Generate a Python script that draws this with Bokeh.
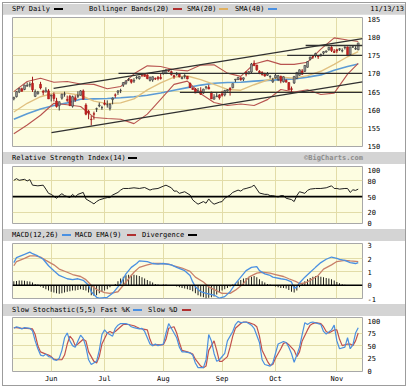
import pandas as pd
from bokeh.plotting import figure
from bokeh.models import Range1d, FixedTicker, Span, Div, ColumnDataSource
from bokeh.layouts import column
from bokeh.embed import file_html
from bokeh.resources import INLINE

# ---------------- data (trading-day index 0 = May 13 2013 ... 129 = Nov 13 2013)
day_idx = list(range(130))
opens = [163.0,163.6,164.9,165.8,165.6,166.5,166.8,167.3,163.7,164.4,
         167.0,165.1,164.9,165.2,163.8,164.2,162.4,161.1,163.2,164.3,
         162.8,163.7,161.0,163.3,163.7,164.0,165.2,161.3,159.6,157.4,
         158.9,160.2,161.1,160.6,161.8,161.4,160.4,162.8,164.1,164.8,
         165.3,166.8,167.3,168.2,168.3,167.9,168.8,168.6,169.6,169.8,
         169.6,168.1,168.2,168.6,168.9,168.9,169.9,170.0,170.8,170.5,
         169.4,169.7,169.8,168.6,169.2,169.2,167.3,165.9,165.7,164.8,
         165.2,164.6,166.2,166.2,164.8,162.9,163.6,164.1,164.4,164.1,
         165.2,165.9,166.1,168.2,168.3,168.8,168.4,170.3,169.9,170.4,
         172.8,172.3,170.6,170.3,169.8,169.5,169.1,167.7,168.8,168.4,
         169.2,167.7,168.1,167.5,165.8,167.4,168.6,169.5,170.7,170.6,
         171.7,173.9,174.6,175.0,174.9,175.0,175.6,175.9,176.5,177.2,
         176.1,176.5,176.6,176.2,177.1,177.3,175.2,177.3,176.7,176.5]
highs = [163.6,165.1,166.0,166.1,166.9,167.5,167.6,169.1,165.6,165.2,
         167.7,165.5,166.2,165.7,164.2,164.8,163.3,162.3,164.4,165.0,
         163.9,164.1,163.9,164.0,165.1,165.4,165.6,161.8,160.0,158.3,
         159.5,160.6,162.0,161.1,162.7,162.6,161.8,163.4,164.5,165.4,
         165.8,167.6,168.0,168.8,168.4,168.7,169.3,169.3,169.9,170.0,
         169.8,169.1,169.2,168.9,169.3,170.1,170.9,171.0,171.0,170.8,
         169.7,170.4,170.1,169.2,169.8,169.3,167.5,166.2,166.0,166.0,
         166.2,165.8,166.5,166.9,165.0,164.3,164.6,164.3,165.2,165.5,
         165.7,166.2,167.2,168.5,168.9,168.9,168.9,170.6,170.6,172.9,
         173.6,172.4,170.9,170.6,170.2,170.4,169.5,168.8,170.1,169.6,
         169.4,169.2,168.4,167.6,166.4,169.3,170.4,171.1,171.2,172.3,
         173.4,174.6,174.9,175.7,175.0,175.5,176.1,176.3,177.3,177.5,
         176.7,176.8,177.0,176.9,177.5,177.4,177.3,177.6,177.5,178.4]
lows = [162.6,163.4,164.6,165.0,165.4,166.4,166.2,164.9,163.5,164.2,
        165.6,164.0,164.8,163.0,162.3,162.3,160.6,159.8,162.8,163.6,
        162.2,161.0,160.6,162.2,163.2,163.9,162.8,158.5,157.4,155.7,
        157.3,159.4,160.7,160.0,161.2,160.6,159.8,161.5,163.3,164.1,
        164.6,166.3,166.9,167.9,167.2,167.4,168.4,168.3,169.0,169.1,
        168.4,167.8,167.7,168.2,168.1,168.3,169.7,169.8,170.4,169.4,
        168.5,169.4,168.9,168.4,168.6,168.4,166.0,165.5,164.6,164.6,
        164.1,164.4,165.6,165.7,163.0,162.9,163.5,162.8,163.6,163.7,
        165.0,163.9,165.9,167.6,168.2,168.0,167.9,169.2,169.8,170.1,
        172.0,170.7,169.8,169.4,169.1,169.3,168.6,167.4,168.6,167.9,
        167.3,167.5,167.6,165.5,164.5,167.1,168.5,169.4,169.6,170.4,
        171.6,173.6,174.0,174.4,174.0,174.6,175.2,175.7,176.3,175.9,
        175.6,175.6,176.2,175.8,176.6,174.8,175.1,177.0,176.5,176.4]
closes = [163.4,165.0,165.9,165.1,166.8,166.7,167.0,165.5,165.0,164.9,
          166.0,164.8,165.4,163.0,164.0,163.1,160.9,162.2,164.3,164.3,
          162.6,161.2,163.6,162.7,163.9,165.2,162.9,158.8,159.2,157.3,
          158.8,160.3,161.3,160.6,161.5,161.4,161.5,163.2,164.0,165.2,
          165.3,167.5,168.0,168.3,167.6,168.1,168.9,169.2,169.5,169.2,
          168.6,169.0,169.1,168.5,168.6,168.6,170.7,171.0,170.7,169.7,
          169.1,169.7,169.1,168.9,169.4,168.5,166.1,165.6,164.6,165.2,
          164.3,165.7,166.3,165.7,163.0,163.5,163.8,163.3,164.0,165.3,
          165.5,165.5,167.2,168.4,168.9,168.3,168.8,169.8,170.5,172.6,
          172.2,171.0,170.2,169.7,169.3,169.9,169.2,168.2,169.5,169.4,
          167.9,169.1,167.6,165.5,165.6,169.2,170.3,171.0,169.8,172.2,
          173.3,174.5,174.5,175.5,174.6,175.2,176.0,176.2,177.2,176.3,
          175.8,176.2,176.8,176.3,177.2,174.9,177.3,177.3,176.9,178.4]

band_idx = [0,5,10,15,20,25,30,35,40,45,50,55,60,65,70,75,80,85,90,95,100,105,110,115,120,125,129]
sma20 = [159.4,161.8,163.6,164.6,164.6,164.0,162.4,161.7,161.9,163.0,165.5,167.4,169.0,169.3,168.3,167.0,165.6,165.4,166.9,168.2,169.0,168.7,169.4,170.6,172.5,174.6,176.0]
bb_upper = [165.0,167.8,168.7,167.6,167.8,167.1,167.0,165.8,166.4,169.9,172.1,171.9,171.0,170.7,172.3,172.4,170.1,169.2,172.6,173.6,172.5,172.5,173.1,176.7,179.8,179.2,178.8]
bb_lower = [153.4,155.8,158.5,161.8,161.4,160.9,157.9,157.6,157.4,156.2,158.8,162.9,167.0,167.9,164.4,162.0,161.2,161.6,161.2,162.8,165.6,164.9,165.5,164.2,164.6,169.8,172.8]
sma40 = [157.4,158.9,160.2,161.2,161.9,162.9,163.0,163.1,163.3,163.6,164.0,164.6,165.4,166.1,166.8,167.3,167.5,167.6,167.9,168.1,168.3,168.5,169.0,169.6,170.9,171.9,172.6]

trend_x0 = [14.9, 109.3, 102.4, 39.2, 62.2, 14.1]
trend_y0 = [165.9, 177.7, 175.0, 170.0, 164.8, 153.7]
trend_x1 = [130.6, 130.6, 130.6, 130.6, 130.6, 130.6]
trend_y1 = [179.6, 177.7, 175.0, 170.0, 164.8, 167.7]

rsi_idx = [0,1,2,4,5,6,7,9,11,12,13,14,16,17,18,19,21,22,23,24,26,27,29,30,31,32,34,35,36,37,39,40,41,43,45,47,49,51,52,54,
           56,57,59,60,61,62,64,66,67,68,69,71,72,73,74,75,77,78,79,81,82,84,85,86,87,89,90,91,92,94,95,96,97,99,100,101,102,
           104,105,106,107,109,110,111,113,115,117,119,120,121,122,124,125,126,127,128,129]
rsi_val = [81.2,84.4,81.2,83.1,80.0,82.5,71.9,70.7,71.9,64.4,56.3,54.4,46.9,51.9,55.6,51.9,48.2,54.4,49.4,54.4,
           58.1,45.6,39.4,36.2,40.6,43.8,46.9,48.2,48.2,53.1,58.1,62.5,65.6,65.6,66.9,65.6,67.5,62.5,64.4,65.6,
           70.0,71.9,66.9,60.6,60.6,56.3,59.4,53.1,43.8,39.4,35.6,40.6,37.5,45.6,39.4,35.6,39.4,40.6,46.9,53.1,
           58.1,62.5,60.6,64.4,65.6,68.7,71.9,64.4,56.9,54.4,54.4,51.9,51.9,49.4,51.9,51.9,46.9,44.4,40.6,51.9,
           59.4,56.3,61.9,64.4,65.6,65.6,66.9,70.7,65.6,65.6,64.4,65.6,65.6,58.1,63.1,61.9,64.4]

macd_idx = [0,1,4,6,7,9,11,13,15,17,20,22,24,26,28,29,31,32,35,37,40,42,44,46,47,50,52,54,56,59,61,64,66,67,68,70,72,75,77,79,
            81,83,85,87,89,91,92,94,96,97,100,102,104,105,106,107,109,111,113,115,117,119,121,122,124,126,128,129]
macd_val = [1.71,2.08,2.33,2.5,2.38,2.21,1.96,1.47,1.1,0.74,0.49,0.42,0.49,0.37,0.0,-0.49,-0.91,-0.98,-0.91,-0.61,
            0.12,0.86,1.35,1.64,1.84,1.79,1.64,1.59,1.64,1.54,1.35,1.1,0.74,0.25,-0.12,-0.49,-0.61,-0.74,-0.98,-0.86,
            -0.49,0.12,0.61,1.1,1.35,1.40,1.1,0.86,0.74,0.61,0.49,0.42,0.25,-0.25,-0.12,0.17,0.61,0.98,1.35,1.71,
            1.96,2.13,2.03,1.96,1.88,1.71,1.64,1.71]
sig_idx = [0,1,4,6,8,10,12,15,17,20,22,25,27,29,31,34,36,39,41,43,45,47,50,52,55,58,60,63,66,68,71,73,76,78,81,83,86,88,91,93,
           96,98,101,103,106,107,109,111,114,116,119,121,124,126,129]
sig_val = [1.47,1.79,2.03,2.21,2.21,2.13,1.88,1.54,1.22,0.98,0.81,0.66,0.42,0.0,-0.32,-0.56,-0.61,-0.49,0.0,0.49,
           0.98,1.35,1.54,1.64,1.64,1.59,1.47,1.30,1.05,0.61,0.25,-0.12,-0.42,-0.61,-0.61,-0.37,0.12,0.61,0.91,0.98,
           0.91,0.81,0.66,0.49,0.25,0.12,0.17,0.37,0.74,1.22,1.54,1.79,1.88,1.84,1.79]
hist_val = [0.30,0.32,0.35,0.35,0.33,0.30,0.28,0.20,0.10,0.05,
            -0.10,-0.20,-0.30,-0.40,-0.50,-0.55,-0.60,-0.65,-0.60,-0.55,
            -0.50,-0.45,-0.40,-0.40,-0.35,-0.30,-0.35,-0.40,-0.55,-0.75,
            -0.80,-0.75,-0.60,-0.50,-0.40,-0.30,-0.15,-0.05,0.10,0.30,
            0.50,0.65,0.75,0.80,0.80,0.80,0.75,0.70,0.60,0.50,
            0.40,0.30,0.20,0.10,0.05,0.02,0.05,0.05,0.02,0.00,
            -0.05,-0.10,-0.15,-0.20,-0.25,-0.30,-0.35,-0.45,-0.60,-0.75,
            -0.85,-0.90,-1.00,-0.95,-0.90,-0.85,-0.70,-0.55,-0.40,-0.30,
            -0.20,-0.10,0.05,0.15,0.30,0.40,0.50,0.55,0.60,0.65,
            0.70,0.60,0.45,0.30,0.20,0.10,0.05,-0.05,-0.10,-0.15,
            -0.20,-0.20,-0.25,-0.35,-0.50,-0.55,-0.40,-0.15,0.10,0.30,
            0.45,0.55,0.65,0.70,0.70,0.65,0.60,0.55,0.50,0.45,
            0.35,0.25,0.15,0.08,0.03,-0.03,-0.05,-0.05,-0.05,-0.05]

fastk_idx = [0,1,2,3,4,6,7,8,9,10,11,12,13,14,15,16,17,18,19,20,21,22,23,24,25,26,27,28,29,31,32,33,34,35,37,38,39,40,42,43,
             44,45,47,48,49,51,52,53,54,56,57,58,59,61,62,63,64,66,67,68,69,71,72,73,74,75,76,77,79,80,82,83,84,85,87,88,89,90,92,93,
             94,96,97,98,99,101,102,103,104,105,106,107,108,109,110,111,112,114,115,116,117,119,120,121,122,124,125,126,127,128,129]
fastk_val = [85.3,88.5,86.6,84.0,86.6,85.3,80.2,60.0,44.2,31.5,29.6,33.4,28.4,27.1,22.1,20.8,25.2,41.0,66.3,75.8,
             60.0,50.5,47.4,60.0,71.4,65.1,47.4,22.1,12.6,18.9,41.0,72.7,82.1,75.8,69.5,85.3,91.6,94.8,94.8,92.9,
             88.5,86.6,84.0,85.3,79.0,53.7,50.5,53.7,50.5,53.7,75.8,94.8,85.3,66.3,47.4,37.9,37.9,36.0,31.5,15.7,
             6.2,6.2,22.1,72.7,60.0,34.7,18.9,22.1,34.7,60.0,79.0,92.9,99.2,96.7,98.0,94.8,91.6,85.3,56.8,22.1,
             12.6,9.4,15.7,34.7,53.7,58.7,56.8,47.4,34.7,17.0,31.5,47.4,72.7,96.7,92.9,96.7,98.0,94.8,92.9,79.0,
             73.9,82.1,91.6,60.0,44.2,47.4,66.3,44.2,52.0,75.8,86.6]
slowd_idx = [0,1,3,5,7,8,9,10,12,13,14,15,16,18,19,20,21,22,23,24,26,27,28,30,31,32,33,35,36,37,38,40,41,42,43,45,46,47,48,50,
             51,52,53,55,56,57,58,60,61,62,63,65,66,67,68,70,71,72,73,75,76,77,78,80,81,82,83,85,86,87,88,90,91,92,93,95,96,97,98,100,
             101,102,103,105,106,107,108,110,111,112,113,115,116,117,118,120,121,122,123,125,126,127,128,129]
slowd_val = [86.6,86.6,85.3,85.3,84.0,72.7,50.5,37.9,33.4,31.5,28.4,23.3,22.1,22.1,31.5,53.7,69.5,63.2,50.5,53.7,
             63.2,60.0,37.9,18.9,15.7,28.4,53.7,75.8,79.0,75.8,79.0,88.5,92.9,92.9,92.9,90.4,87.8,85.3,84.0,82.1,
             63.2,50.5,52.4,51.8,52.4,63.2,85.3,88.5,75.8,56.8,41.0,37.9,36.0,33.4,23.3,9.4,6.2,9.4,41.0,60.0,
             41.0,18.9,18.9,28.4,47.4,69.5,85.3,94.8,98.0,98.0,96.7,92.9,88.5,69.5,41.0,18.9,10.7,12.6,25.2,44.2,
             55.0,56.8,52.4,41.0,28.4,37.9,60.0,82.1,91.6,94.8,96.7,94.8,88.5,79.0,75.8,82.1,82.1,63.2,50.5,53.7,
             53.7,50.5,60.0,75.8]

month_idx = [14, 34, 56, 78, 98, 121]
month_lbl = ["Jun", "Jul", "Aug", "Sep", "Oct", "Nov"]
price_ticks = [150, 155, 160, 165, 170, 175, 180, 185]
rsi_ticks = [0, 20, 50, 80, 100]
macd_ticks = [-1, 0, 1, 2, 3]
stoch_ticks = [0, 25, 50, 75, 100]
chart_date = "11/13/13"

# ---------------- styling
FONT = "DejaVu Sans Mono"
BG = "#fdfde1"
GRID = "#e2dca8"
W = 402
xr = Range1d(-0.5, 130.6)


def style_axis(ax, standoff):
    ax.major_label_text_font = FONT
    ax.major_label_text_font_size = "7px"
    ax.major_label_text_color = "#000000"
    ax.major_tick_line_color = None
    ax.minor_tick_line_color = None
    ax.axis_line_color = None
    ax.major_label_standoff = standoff


def make_fig(h, yr, ticks, grid_ticks, top, bottom, xaxis=False):
    p = figure(width=W, height=h, x_range=xr, y_range=yr,
               x_axis_location="below" if xaxis else None,
               y_axis_location="right", toolbar_location=None,
               output_backend="svg", min_border_left=9, min_border_right=43,
               min_border_top=top, min_border_bottom=bottom,
               background_fill_color=BG, border_fill_color="white",
               outline_line_color="#a8a8a8")
    p.yaxis.ticker = FixedTicker(ticks=ticks)
    p.yaxis.major_label_overrides = {t: str(t) for t in ticks}
    for ax in p.yaxis:
        style_axis(ax, 5)
        ax.major_tick_out = 0
        ax.major_tick_in = 0
    p.xgrid.ticker = FixedTicker(ticks=month_idx)
    p.xgrid.grid_line_color = GRID
    p.ygrid.ticker = FixedTicker(ticks=grid_ticks)
    p.ygrid.grid_line_color = GRID
    if xaxis:
        p.xaxis.ticker = FixedTicker(ticks=month_idx)
        p.xaxis.major_label_overrides = dict(zip(month_idx, month_lbl))
        for ax in p.xaxis:
            style_axis(ax, 3)
            ax.major_tick_out = 0
            ax.major_tick_in = 0
    return p


def header(items, h=12, right_html=""):
    parts = []
    for left, kind, val in items:
        if kind == "t":
            parts.append(f'<span style="position:absolute;left:{left}px;top:0px;">{val}</span>')
        else:
            parts.append(f'<span style="position:absolute;left:{left}px;top:{h // 2 - 1}px;width:9px;height:2px;background:{val};"></span>')
    html = (f'<div style="position:relative;width:{W}px;height:{h}px;background:#d4d4d4;'
            f"font-family:'{FONT}';font-size:7px;line-height:{h}px;color:#000;white-space:nowrap;overflow:hidden;\">"
            + "".join(parts) + right_html + "</div>")
    return Div(text=html, width=W, height=h, margin=0)


# ---------------- main price panel
p1 = make_fig(138, Range1d(149.9, 185.4), price_ticks, [155, 160, 165, 170, 175, 180], top=3, bottom=6)
p1.line(band_idx, sma40, line_color="#5b9bd5", line_width=1.6)
p1.line(band_idx, sma20, line_color="#e0c080", line_width=1.4)
p1.line(band_idx, bb_upper, line_color="#b85450", line_width=1.1)
p1.line(band_idx, bb_lower, line_color="#b85450", line_width=1.1)

df = pd.DataFrame(dict(x=day_idx, o=opens, h=highs, l=lows, c=closes))
df["top"] = df[["o", "c"]].max(axis=1)
df["bot"] = df[["o", "c"]].min(axis=1)
up = ColumnDataSource(df[df.c >= df.o])
dn = ColumnDataSource(df[df.c < df.o])
p1.segment(x0="x", y0="l", x1="x", y1="h", source=up, line_color="#3a3a3a", line_width=1)
p1.vbar(x="x", top="top", bottom="bot", width=0.7, source=up,
        fill_color="#9a9a9a", line_color="#3a3a3a", line_width=0.6)
p1.segment(x0="x", y0="l", x1="x", y1="h", source=dn, line_color="#a01818", line_width=1)
p1.vbar(x="x", top="top", bottom="bot", width=0.7, source=dn,
        fill_color="#cc2222", line_color="#a01818", line_width=0.6)
p1.segment(x0=trend_x0, y0=trend_y0, x1=trend_x1, y1=trend_y1, line_color="#303030", line_width=1.3)

# ---------------- RSI panel
p2 = make_fig(65, Range1d(-1.3, 107.6), rsi_ticks, [20, 80], top=2, bottom=6)
p2.add_layout(Span(location=50, dimension="width", line_color="#000000", line_width=1.6))
p2.line(rsi_idx, rsi_val, line_color="#202020", line_width=1)

# ---------------- MACD panel
p3 = make_fig(63, Range1d(-1.0, 3.15), macd_ticks, [1, 2], top=2, bottom=6)
p3.add_layout(Span(location=0, dimension="width", line_color="#000000", line_width=1.5))
p3.vbar(x=day_idx, top=hist_val, bottom=0, width=0.35, fill_color="#111111", line_color=None)
p3.line(sig_idx, sig_val, line_color="#c8806a", line_width=1.3)
p3.line(macd_idx, macd_val, line_color="#4a90e2", line_width=1.3)

# ---------------- Stochastic panel
p4 = make_fig(69, Range1d(-1.5, 107), stoch_ticks, [25, 50, 75], top=1, bottom=11, xaxis=True)
p4.line(slowd_idx, slowd_val, line_color="#c0504d", line_width=1.2)
p4.line(fastk_idx, fastk_val, line_color="#4a8fe0", line_width=1.2)

# ---------------- headers
h1 = header([(9, "t", "SPY Daily"), (51, "s", "#000000"),
             (86, "t", "Bollinger Bands(20)"), (170, "s", "#b03030"),
             (184, "t", "SMA(20)"), (216, "s", "#e0b060"),
             (232, "t", "SMA(40)"), (265, "s", "#4a90e2")], h=11,
            right_html=f'<span style="position:absolute;right:1px;top:0px;">{chart_date}</span>')
h2 = header([(9, "t", "Relative Strength Index(14)"), (125, "s", "#000000")],
            right_html='<span style="position:absolute;right:42px;top:0px;color:#8c8c8c;font-weight:bold;">&copy;BigCharts.com</span>')
h3 = header([(9, "t", "MACD(12,26)"), (59, "s", "#4a90e2"),
             (72, "t", "MACD EMA(9)"), (124, "s", "#b03030"),
             (139, "t", "Divergence"), (185, "s", "#000000")])
h4 = header([(9, "t", "Slow Stochastic(5,5) Fast %K"), (130, "s", "#4a90e2"),
             (145, "t", "Slow %D"), (179, "s", "#b03030")])

layout = column(h1, p1, h2, p2, h3, p3, h4, p4, spacing=0, margin=(2, 0, 0, 2),
                styles={"border": "1px solid #9c9c9c"})

open("out.html", "w").write(file_html(layout, INLINE))
